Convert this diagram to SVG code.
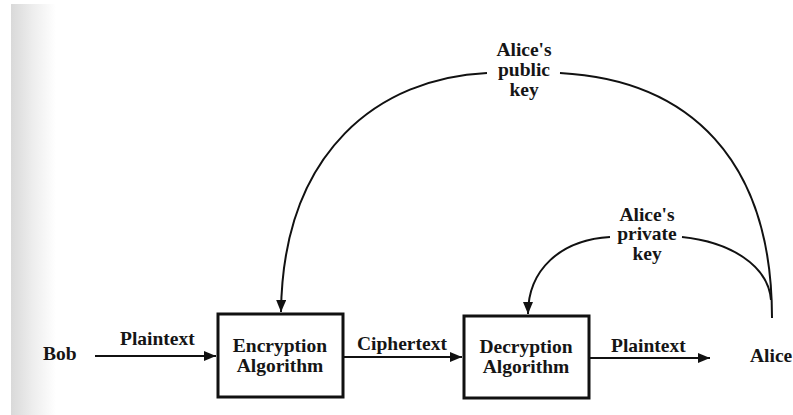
<svg xmlns="http://www.w3.org/2000/svg" width="793" height="415" viewBox="0 0 793 415">
<defs>
<linearGradient id="edge" x1="0" y1="0" x2="1" y2="0">
<stop offset="0" stop-color="#d9d9d9"/>
<stop offset="0.5" stop-color="#eeeeee"/>
<stop offset="1" stop-color="#ffffff"/>
</linearGradient>
<marker id="arr" viewBox="0 0 12 10" refX="12" refY="5" markerWidth="12" markerHeight="10" markerUnits="userSpaceOnUse" orient="auto">
<path d="M0,0 L12,5 L0,10 Z" fill="#111"/>
</marker>
<style>
text{font-family:"Liberation Serif","Times New Roman",serif;font-weight:bold;font-size:19.5px;fill:#151515}
.c{text-anchor:middle}
.box{fill:none;stroke:#111;stroke-width:3}
.line{fill:none;stroke:#111;stroke-width:2}
</style>
</defs>
<rect width="793" height="415" fill="#ffffff"/>
<rect x="11" y="4" width="45" height="411" fill="url(#edge)"/>
<g id="connectors">
<path class="line" d="M95,356 L216,356" marker-end="url(#arr)"/>
<path class="line" d="M343,357 L462,357" marker-end="url(#arr)"/>
<path class="line" d="M589,358 L710,358" marker-end="url(#arr)"/>
<path class="line" d="M487,73 C380,78 283,150 281,312" marker-end="url(#arr)"/>
<path class="line" d="M560,73 C690,80 772,160 772,318"/>
<path class="line" d="M682,237 C730,242 768,265 771,300"/>
<path class="line" d="M610,237 C560,240 528,270 528,314" marker-end="url(#arr)"/>
<text x="120" y="345">Plaintext</text>
<text x="357" y="350">Ciphertext</text>
<text x="611" y="352">Plaintext</text>
<text class="c" x="524" y="56">Alice's</text>
<text class="c" x="524" y="76">public</text>
<text class="c" x="524" y="96">key</text>
<text class="c" x="647" y="221">Alice's</text>
<text class="c" x="647" y="240">private</text>
<text class="c" x="647" y="260">key</text>
</g>
<g id="bob"><text x="43" y="360">Bob</text></g>
<g id="encryption">
<rect class="box" x="218" y="314" width="125" height="83"/>
<text class="c" x="280" y="352">Encryption</text>
<text class="c" x="280" y="372">Algorithm</text>
</g>
<g id="decryption">
<rect class="box" x="464" y="316" width="125" height="82"/>
<text class="c" x="526" y="353">Decryption</text>
<text class="c" x="526" y="373">Algorithm</text>
</g>
<g id="alice"><text x="750" y="362">Alice</text></g>
</svg>
